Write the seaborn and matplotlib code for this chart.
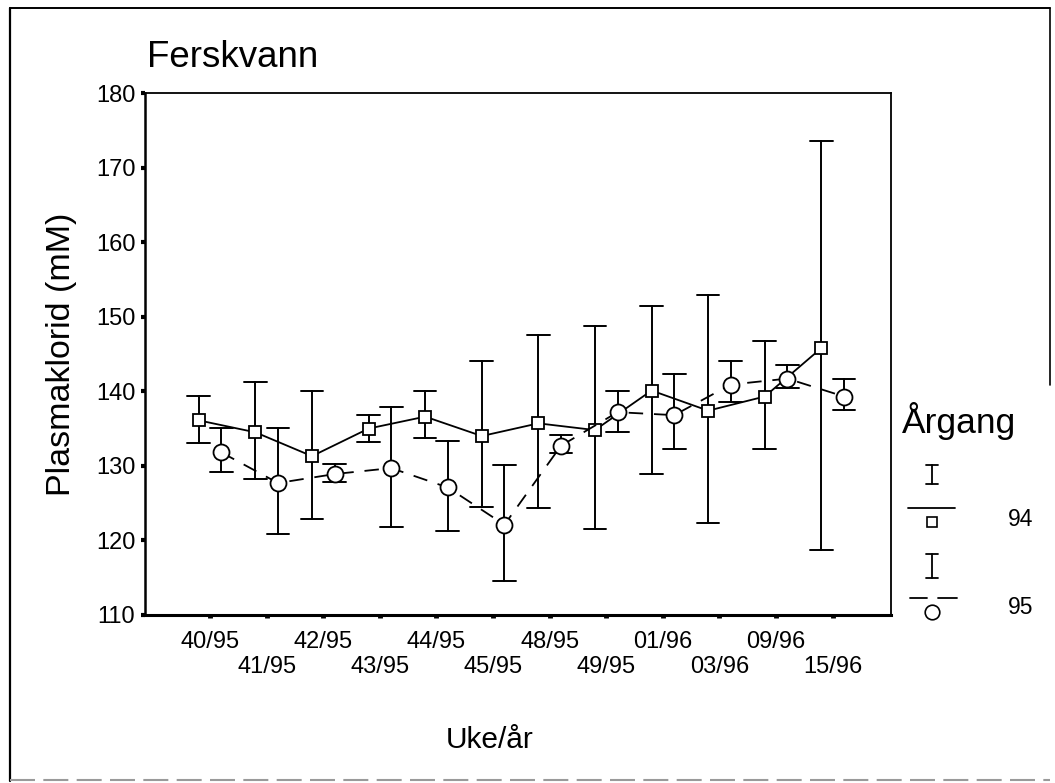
import matplotlib
matplotlib.use("Agg")
import matplotlib.pyplot as plt
from matplotlib import font_manager
from matplotlib.lines import Line2D
import seaborn as sns
import numpy as np
import pandas as pd

# ---------------- data ----------------
weeks = ['40/95', '41/95', '42/95', '43/95', '44/95', '45/95',
         '48/95', '49/95', '01/96', '03/96', '09/96', '15/96']
groups = ['94', '95']

mean94 = [136.1, 134.5, 131.3, 135.0, 136.6, 134.0, 135.7, 134.8, 140.1, 137.4, 139.3, 145.8]
low94 = [133.0, 128.3, 122.9, 133.2, 133.7, 124.5, 124.3, 121.5, 128.9, 122.4, 132.2, 118.7]
high94 = [139.4, 141.2, 140.1, 136.8, 140.0, 144.1, 147.5, 148.8, 151.5, 152.9, 146.8, 173.5]

mean95 = [131.8, 127.7, 128.9, 129.7, 127.1, 122.1, 132.7, 137.2, 136.8, 140.9, 141.7, 139.3]
low95 = [129.2, 120.9, 127.9, 121.8, 121.3, 114.5, 131.7, 134.6, 132.3, 138.6, 140.5, 137.5]
high95 = [135.1, 135.1, 130.2, 137.9, 133.4, 130.1, 134.1, 140.1, 142.3, 144.0, 143.5, 141.7]

yticks = [110, 120, 130, 140, 150, 160, 170, 180]

title = 'Ferskvann'
ylabel = 'Plasmaklorid (mM)'
xlabel = 'Uke/år'
legend_title = 'Årgang'

# long-form table: low / mean / high per point; median -> mean, range -> bar
rows = []
for g, m, lo, hi in [('94', mean94, low94, high94), ('95', mean95, low95, high95)]:
    for w, a, b, c in zip(weeks, m, lo, hi):
        for v in (b, a, c):
            rows.append({'Uke': w, 'Årgang': g, 'Cl': v})
df = pd.DataFrame(rows)

# ---------------- style ----------------
sns.set_style('white')
names = {f.name for f in font_manager.fontManager.ttflist}
HAS_NARROW = 'Liberation Sans Narrow' in names
NARROW = ['Liberation Sans Narrow', 'Liberation Sans', 'DejaVu Sans'] if HAS_NARROW else ['Liberation Sans', 'DejaVu Sans']
REG = ['Liberation Sans', 'DejaVu Sans']
plt.rcParams['font.family'] = REG
plt.rcParams['text.color'] = 'black'
plt.rcParams['axes.labelcolor'] = 'black'
plt.rcParams['xtick.color'] = 'black'
plt.rcParams['ytick.color'] = 'black'
tick_fs = 19 if HAS_NARROW else 17
xlab_fs = 24 if HAS_NARROW else 21.5

W, H = 1055, 783
fig = plt.figure(figsize=(W / 100, H / 100), dpi=100)
fig.patch.set_facecolor('white')

def fx(px):
    return px / W

def fy(py):
    return 1 - py / H

ax = fig.add_axes([fx(145), fy(615), fx(891) - fx(145), fy(93) - fy(615)])

sns.pointplot(data=df, x='Uke', y='Cl', hue='Årgang', order=weeks, hue_order=groups,
              estimator='median', errorbar=lambda v: (v.min(), v.max()),
              palette=['black', 'black'], markers=['s', 'o'], linestyles=['-', '--'],
              dodge=0.4, capsize=0.4, err_kws={'linewidth': 1.4, 'color': 'black'},
              legend=False, ax=ax)

for ln in ax.lines:
    mk = ln.get_marker()
    if mk in ('s', 'o'):
        ln.set_markerfacecolor('white')
        ln.set_markeredgecolor('black')
        ln.set_markeredgewidth(1.3)
        ln.set_linewidth(1.3)
        ln.set_zorder(4)
        if mk == 's':
            ln.set_markersize(8.5)
        else:
            ln.set_markersize(11.5)
            ln.set_dashes([8, 6])
    else:
        ln.set_linewidth(1.4)
        ln.set_zorder(3)

ax.set_xlim(-1.15, 12.03)
ax.set_ylim(110, 180)
ax.set_yticks(yticks)
ax.set_yticklabels([str(t) for t in yticks], fontfamily=NARROW, fontsize=tick_fs, color='black')
ax.set_xticks(range(len(weeks)))
ax.set_xticklabels([w if i % 2 == 0 else '\n' + w for i, w in enumerate(weeks)],
                   fontfamily=NARROW, fontsize=tick_fs, linespacing=1.2, color='black')
ax.tick_params(axis='x', direction='out', length=2.2, width=3.5, color='black',
               bottom=True, top=False, pad=9)
ax.tick_params(axis='y', direction='out', length=3, width=3, color='black',
               left=True, right=False, pad=4)

for side, sp in ax.spines.items():
    sp.set_visible(True)
    sp.set_color('black')
    sp.set_linewidth(1.3)
ax.spines['bottom'].set_linewidth(2.2)
ax.spines['left'].set_linewidth(1.8)

ax.set_ylabel(ylabel, fontsize=24.5, fontfamily=REG, color='black')
ax.yaxis.set_label_coords(-0.091, 0.5)
ax.set_xlabel(xlabel, fontsize=xlab_fs, fontfamily=NARROW, color='black')
ax.xaxis.set_label_coords(0.4625, -0.212)

fig.text(fx(147), fy(67), title, fontsize=26.5, ha='left', va='baseline', fontfamily=REG, color='black')

# ---------------- legend (SPSS style) ----------------
fig.text(fx(902), fy(433), legend_title, fontsize=25.5, ha='left', va='baseline', fontfamily=REG, color='black')

def fl(xs, ys, **kw):
    fig.add_artist(Line2D([fx(x) for x in xs], [fy(y) for y in ys], transform=fig.transFigure,
                          color='black', **kw))

for (ytop, ybot, yline, ymark, ytext, ls, mk, ms, lab) in [
        (465, 484, 508, 522, 520, '-', 's', 7, groups[0]),
        (554, 578, 598, 612, 607, '--', 'o', 10.5, groups[1])]:
    fl([932, 932], [ytop, ybot], lw=1.3)
    fl([926, 938], [ytop, ytop], lw=1.3)
    fl([926, 938], [ybot, ybot], lw=1.3)
    if ls == '-':
        fl([908, 955], [yline, yline], lw=1.3)
    else:
        fl([910, 927], [yline, yline], lw=1.3)
        fl([938, 957], [yline, yline], lw=1.3)
    fl([932], [ymark], lw=0, marker=mk, markersize=ms, markerfacecolor='white',
       markeredgecolor='black', markeredgewidth=1.2)
    fig.text(fx(1008), fy(ytext), lab, fontsize=16.5, ha='left', va='center', fontfamily=REG, color='black')

# ---------------- outer frame of the scanned page ----------------
fl([10, 10], [8, 781], lw=1.6)
fl([10, 1050], [8, 8], lw=1.4)
fl([1050, 1050], [8, 385], lw=1.2)
fig.add_artist(Line2D([fx(10), fx(1050)], [fy(780), fy(780)], transform=fig.transFigure,
                      color='#9a9a9a', lw=1.5, dashes=[12, 4]))

fig.savefig('out.png', dpi=100, facecolor='white')
